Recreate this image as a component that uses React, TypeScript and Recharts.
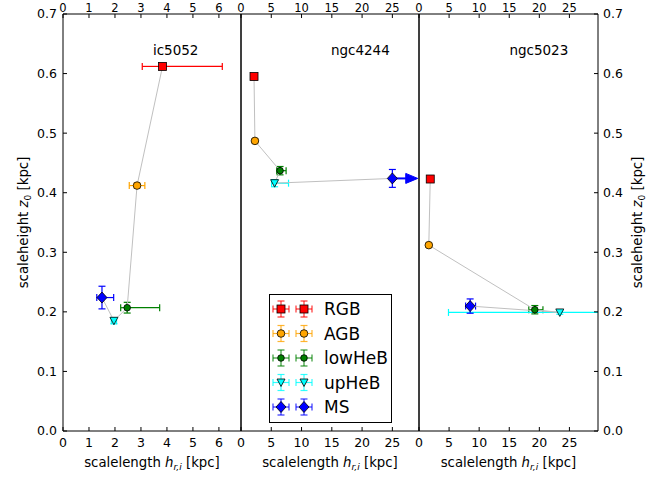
import React from 'react';
import { ScatterChart, Scatter, XAxis, YAxis, ErrorBar, Legend } from 'recharts';

const FONT = "'DejaVu Sans', sans-serif";

// ---- data ----
const populations = ['RGB', 'AGB', 'lowHeB', 'upHeB', 'MS'];
const popColors = ['#ff0000', '#ffa500', '#008000', '#00ffff', '#0000ff'];
const galaxies = ['ic5052', 'ngc4244', 'ngc5023'];

const ic5052X = [3.83, 2.85, 2.47, 1.96, 1.5];
const ic5052Y = [0.612, 0.412, 0.207, 0.185, 0.224];
const ic5052XErr = [[0.78, 2.3], [0.3, 0.3], [0.25, 1.25], [0.1, 0.1], [0.2, 0.45]];
const ic5052YErr = [0.004, 0.004, 0.009, 0.005, 0.019];

const ngc4244X = [2.15, 2.3, 6.45, 5.55, 25.0];
const ngc4244Y = [0.595, 0.487, 0.437, 0.416, 0.424];
const ngc4244XErr = [[0.15, 0.15], [0.15, 0.15], [0.55, 1.0], [0.5, 2.3], [0, 0]];
const ngc4244YErr = [0.003, 0.003, 0.007, 0.006, 0.015];
const ngc4244MsLimit = [25.0, 28.2]; // lower-limit arrow for MS scalelength

const ngc5023X = [1.87, 1.63, 19.25, 23.4, 8.5];
const ngc5023Y = [0.423, 0.312, 0.2036, 0.199, 0.2097];
const ngc5023XErr = [[0.15, 0.15], [0.15, 0.15], [1.0, 1.35], [18.5, 18.5], [0.75, 0.9]];
const ngc5023YErr = [0.003, 0.003, 0.007, 0.003, 0.012];

const xTicksIc = [0, 1, 2, 3, 4, 5, 6];
const xTicksNgc = [0, 5, 10, 15, 20, 25];
const yTicks = [0, 0.1, 0.2, 0.3, 0.4, 0.5, 0.6, 0.7];
const xDomains: [number, number][] = [[0, 6.85], [0, 29.4], [0, 29.75]];
const yDomain: [number, number] = [0, 0.7];

type Pt = { x: number; y: number; xeL: number[]; xeR: number[]; clipR: boolean; ye: number; pop: string };
const build = (xs: number[], ys: number[], xe: number[][], ye: number[], dom: [number, number]): Pt[] =>
  populations.map((p, i) => {
    const hi = xe[i][1];
    const clipR = xs[i] + hi > dom[1];
    const hiVis = clipR ? dom[1] - xs[i] : hi;
    return { x: xs[i], y: ys[i], xeL: [xe[i][0], 0], xeR: [0, hiVis], clipR, ye: ye[i], pop: p };
  });

const panelData = [
  build(ic5052X, ic5052Y, ic5052XErr, ic5052YErr, xDomains[0]),
  build(ngc4244X, ngc4244Y, ngc4244XErr, ngc4244YErr, xDomains[1]),
  build(ngc5023X, ngc5023Y, ngc5023XErr, ngc5023YErr, xDomains[2]),
];
const panelTicks = [xTicksIc, xTicksNgc, xTicksNgc];

// ---- markers ----
function Marker({ kind, cx, cy }: { kind: number; cx: number; cy: number }) {
  const fill = popColors[kind];
  const common = { fill, stroke: '#000', strokeWidth: 0.8 };
  if (kind === 0) return <rect x={cx - 4} y={cy - 4} width={8} height={8} {...common} />;
  if (kind === 1) return <circle cx={cx} cy={cy} r={3.8} {...common} />;
  if (kind === 2) return <circle cx={cx} cy={cy} r={3.3} {...common} />;
  if (kind === 3)
    return <polygon points={`${cx - 4},${cy - 3.5} ${cx + 4},${cy - 3.5} ${cx},${cy + 4}`} {...common} />;
  return <polygon points={`${cx},${cy - 5.5} ${cx + 5},${cy} ${cx},${cy + 5.5} ${cx - 5},${cy}`} {...common} />;
}

const markerShape = (kind: number) => (props: any) => {
  const { cx, cy } = props;
  if (cx == null || cy == null) return <g />;
  return <Marker kind={kind} cx={cx} cy={cy} />;
};

const arrowShape = (props: any) => {
  const { cx, cy, payload } = props;
  if (!payload || !payload.head) return <g />;
  return <polygon points={`${cx - 6},${cy - 5} ${cx + 6},${cy} ${cx - 6},${cy + 5}`} fill="#0000ff" stroke="#0000ff" />;
};

// ---- labels ----
const xLabel = (props: any) => {
  const vb = props.viewBox;
  const cx = vb.x + vb.width / 2;
  return (
    <text x={cx} y={vb.y + 36} textAnchor="middle" fontFamily={FONT} fontSize={13.3} fill="#000">
      {'scalelength '}
      <tspan fontStyle="italic">h</tspan>
      <tspan fontStyle="italic" fontSize={9} dy={3}>r,i</tspan>
      <tspan dy={-3}>{' [kpc]'}</tspan>
    </text>
  );
};

const yLabel = (offsetX: number) => (props: any) => {
  const vb = props.viewBox;
  const x = vb.x + offsetX;
  const y = vb.y + vb.height / 2;
  return (
    <text x={x} y={y} transform={`rotate(-90, ${x}, ${y})`} textAnchor="middle" fontFamily={FONT} fontSize={13.3} fill="#000">
      {'scaleheight '}
      <tspan fontStyle="italic">z</tspan>
      <tspan fontSize={9} dy={3}>0</tspan>
      <tspan dy={-3}>{'  [kpc]'}</tspan>
    </text>
  );
};

const titleLabel = (name: string) => (props: any) => {
  const vb = props.viewBox;
  return (
    <text x={vb.x + 0.505 * vb.width} y={55} textAnchor="start" fontFamily={FONT} fontSize={13.5} fill="#000">
      {name}
    </text>
  );
};

// ---- legend ----
function LegendGlyph({ kind, cx, cy }: { kind: number; cx: number; cy: number }) {
  const c = popColors[kind];
  const s = { stroke: c, strokeWidth: 1.2, opacity: 0.8 };
  return (
    <g>
      <line x1={cx - 8} x2={cx + 8} y1={cy} y2={cy} {...s} />
      <line x1={cx} x2={cx} y1={cy - 8} y2={cy + 8} {...s} />
      <line x1={cx - 8} x2={cx - 8} y1={cy - 3.5} y2={cy + 3.5} {...s} />
      <line x1={cx + 8} x2={cx + 8} y1={cy - 3.5} y2={cy + 3.5} {...s} />
      <line x1={cx - 3.5} x2={cx + 3.5} y1={cy - 8} y2={cy - 8} {...s} />
      <line x1={cx - 3.5} x2={cx + 3.5} y1={cy + 8} y2={cy + 8} {...s} />
      <Marker kind={kind} cx={cx} cy={cy} />
    </g>
  );
}

const LegendBox = () => (
  <div style={{ width: 123, height: 129, boxSizing: 'border-box', border: '1px solid #000', background: '#fff' }}>
    <svg width={121} height={127} style={{ display: 'block' }}>
      {populations.map((p, i) => {
        const cy = 14 + i * 24.5;
        return (
          <g key={p}>
            <LegendGlyph kind={i} cx={11} cy={cy} />
            <LegendGlyph kind={i} cx={34} cy={cy} />
            <text x={54} y={cy + 6} fontFamily={FONT} fontSize={17} fill="#000">{p}</text>
          </g>
        );
      })}
    </svg>
  </div>
);

// ---- panel ----
type PanelProps = {
  idx: number;
  left: number;
  width: number;
  leftW: number;
  rightW: number;
};

function Panel({ idx, left, width, leftW, rightW }: PanelProps) {
  const data = panelData[idx];
  const ticks = panelTicks[idx];
  const domain = xDomains[idx];
  const tickStyle = { fill: '#000', fontSize: 12.5, fontFamily: FONT };
  const topTickStyle = { fill: '#000', fontSize: 11.5, fontFamily: FONT };
  const axisStroke = { stroke: '#000', strokeWidth: 1 };
  return (
    <div style={{ position: 'absolute', left, top: 0 }}>
      <ScatterChart width={width} height={477} margin={{ top: 0, right: 0, bottom: 0, left: 0 }}>
        <XAxis
          xAxisId="b"
          type="number"
          dataKey="x"
          orientation="bottom"
          domain={domain}
          ticks={ticks}
          interval={0}
          allowDataOverflow
          height={46}
          tickSize={-4}
          tickMargin={11}
          tick={tickStyle}
          tickLine={axisStroke}
          axisLine={axisStroke}
          label={{ content: xLabel }}
        />
        <XAxis
          xAxisId="t"
          type="number"
          dataKey="x"
          orientation="top"
          domain={domain}
          ticks={ticks}
          interval={0}
          allowDataOverflow
          height={14}
          tickSize={-4}
          tickMargin={6}
          tick={topTickStyle}
          tickLine={axisStroke}
          axisLine={axisStroke}
          label={{ content: titleLabel(galaxies[idx]) }}
        />
        <YAxis
          yAxisId="l"
          type="number"
          dataKey="y"
          orientation="left"
          domain={yDomain}
          ticks={yTicks}
          interval={0}
          allowDataOverflow
          width={leftW}
          tickSize={-4}
          tickMargin={10}
          tick={idx === 0 ? tickStyle : false}
          tickFormatter={(v: number) => v.toFixed(1)}
          tickLine={axisStroke}
          axisLine={axisStroke}
          label={idx === 0 ? { content: yLabel(28) } : undefined}
        />
        <YAxis
          yAxisId="r"
          type="number"
          dataKey="y"
          orientation="right"
          domain={yDomain}
          ticks={yTicks}
          interval={0}
          allowDataOverflow
          width={rightW}
          tickSize={-4}
          tickMargin={9}
          tick={idx === 2 ? tickStyle : false}
          tickFormatter={(v: number) => v.toFixed(1)}
          tickLine={axisStroke}
          axisLine={axisStroke}
          label={idx === 2 ? { content: yLabel(44) } : undefined}
        />
        {/* invisible series binding the top and right axes to the same data */}
        <Scatter
          xAxisId="t"
          yAxisId="r"
          data={data}
          dataKey="y"
          shape={() => <g />}
          legendType="none"
          isAnimationActive={false}
        />
        <Scatter
          xAxisId="b"
          yAxisId="l"
          data={data}
          dataKey="y"
          line={{ stroke: '#c0c0c0', strokeWidth: 1 }}
          shape={() => <g />}
          legendType="none"
          isAnimationActive={false}
        />
        {idx === 1 && (
          <Scatter
            xAxisId="b"
            yAxisId="l"
            data={ngc4244MsLimit.map((x, i) => ({ x, y: ngc4244Y[4], head: i === 1 }))}
            dataKey="y"
            line={{ stroke: '#0000ff', strokeWidth: 2 }}
            shape={arrowShape}
            legendType="none"
            isAnimationActive={false}
          />
        )}
        {data.map((pt, i) => (
          <Scatter
            key={pt.pop}
            name={pt.pop}
            xAxisId="b"
            yAxisId="l"
            data={[pt]}
            dataKey="y"
            fill={popColors[i]}
            shape={markerShape(i)}
            isAnimationActive={false}
          >
            <ErrorBar dataKey="xeL" direction="x" width={3.5} stroke={popColors[i]} strokeWidth={1.2} isAnimationActive={false} />
            <ErrorBar dataKey="xeR" direction="x" width={pt.clipR ? 0 : 3.5} stroke={popColors[i]} strokeWidth={1.2} isAnimationActive={false} />
            <ErrorBar dataKey="ye" direction="y" width={3.5} stroke={popColors[i]} strokeWidth={1.2} isAnimationActive={false} />
          </Scatter>
        ))}
        {idx === 1 && (
          <Legend
            layout="horizontal"
            verticalAlign="middle"
            align="center"
            width={123}
            height={129}
            content={LegendBox}
            wrapperStyle={{ position: 'absolute', left: 38, top: 294, width: 123, height: 129, margin: 0, padding: 0 }}
          />
        )}
      </ScatterChart>
    </div>
  );
}

export default function App() {
  return (
    <div style={{ position: 'absolute', left: 0, top: 0, width: 664, height: 477, background: '#fff', overflow: 'hidden' }}>
      <Panel idx={0} left={0} width={251} leftW={63} rightW={10} />
      <Panel idx={1} left={231} width={198} leftW={10} rightW={10} />
      <Panel idx={2} left={409} width={255} leftW={10} rightW={66} />
    </div>
  );
}
